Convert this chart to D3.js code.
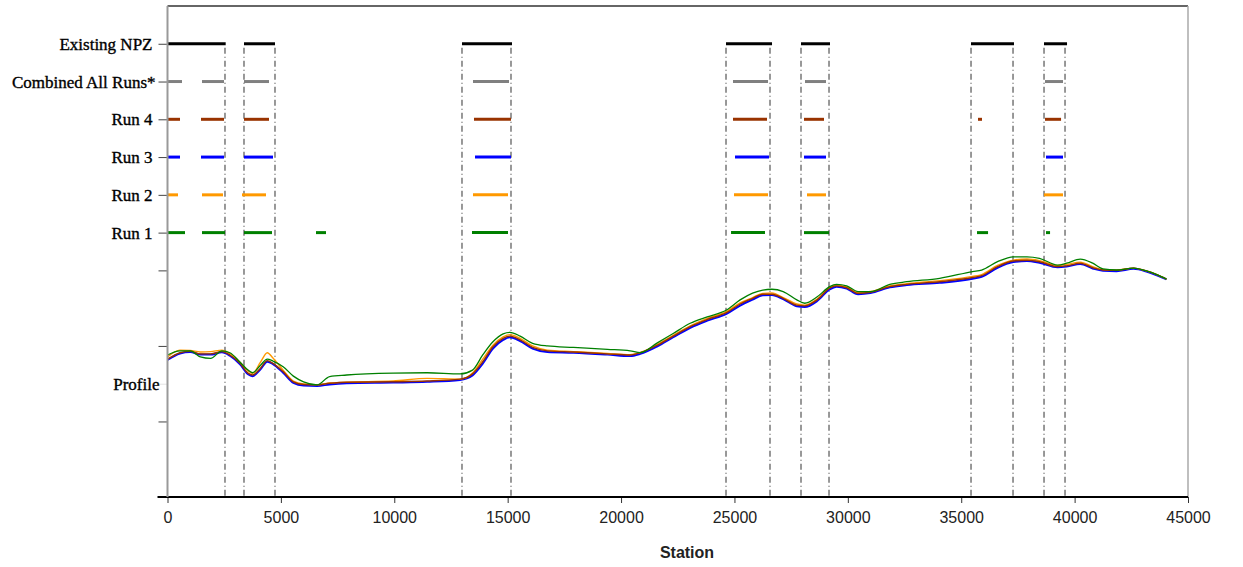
<!DOCTYPE html>
<html>
<head>
<meta charset="utf-8">
<script src="https://cdn.jsdelivr.net/npm/d3@7"></script>
<style>
	body { margin: 0; background: #fff; }
	svg { display: block; }
</style>
</head>
<body>
<svg id="plot" width="1243" height="567"></svg>
<script>

// rows of the zone chart (value on the y axis -> label)
const ROW_VALUES = [12, 11, 10, 9, 8, 7, 3];
const ROW_LABELS = ['Existing NPZ', 'Combined All Runs*', 'Run 4', 'Run 3', 'Run 2', 'Run 1', 'Profile'];

const X_TICKS = [0, 5000, 10000, 15000, 20000, 25000, 30000, 35000, 40000, 45000];

// zones as [start, end] station pairs
const EXISTING_NPZ = [[0, 2566], [3373, 4740], [12986, 15191], [24628, 26657], [27935, 29214], [35431, 37327], [38650, 39666]];
const COMBINED_RUNS = [[0, 640], [1521, 2491], [3373, 4476], [13471, 15059], [24936, 26480], [28111, 29037], [38694, 39488]];
const RUN4_ZONES = [[0, 551], [1477, 2491], [3373, 4476], [13515, 15147], [24936, 26436], [28067, 28949], [35740, 35916], [38694, 39402]];
const RUN3_ZONES = [[0, 551], [1477, 2491], [3373, 4652], [13560, 15147], [25025, 26524], [28067, 29037], [38738, 39488]];
const RUN2_ZONES = [[0, 463], [1521, 2447], [3285, 4344], [13471, 15015], [24980, 26480], [28199, 29037], [38650, 39488]];
const RUN1_ZONES = [[0, 772], [1521, 2536], [3373, 4608], [6548, 6989], [13427, 15015], [24850, 26347], [28067, 29170], [35696, 36183], [38738, 38917]];

// boundaries of the existing NPZ (dash-dot verticals)
const NPZ_BOUNDS = [2535, 3373, 4740, 12986, 15147, 24628, 26568, 27935, 29170, 35432, 37284, 38651, 39577];

// profile stations and elevations (in y axis units)
const STATIONS = [0, 550, 1000, 1450, 1900, 2400, 2750, 3200, 3550, 3750, 4100, 4400, 4650, 5100, 5550, 6000, 6600, 7150, 7900, 9950,
	11450, 12900, 13450, 13900, 14350, 14800, 15100, 15550, 16100, 16750, 17900, 19400, 20400, 20850, 21600, 22300, 23050, 23800, 24650, 25250,
	25800, 26250, 26650, 27150, 27750, 28100, 28650, 29200, 29500, 29950, 30450, 31000, 31850, 32600, 34050, 35500, 35900, 36600, 37300, 37900,
	38450, 39250, 39650, 40250, 40800, 41250, 41850, 42600, 43200, 43650, 44050];

const PROFILE_RUN4 = [3.65, 3.82, 3.86, 3.79, 3.79, 3.85, 3.76, 3.54, 3.28, 3.23, 3.41, 3.61, 3.54, 3.32, 3.05, 2.98, 2.97, 3.01, 3.04, 3.05,
	3.07, 3.12, 3.26, 3.58, 3.98, 4.20, 4.26, 4.16, 3.96, 3.87, 3.84, 3.79, 3.76, 3.82, 4.02, 4.26, 4.51, 4.70, 4.88, 5.11,
	5.26, 5.37, 5.37, 5.26, 5.08, 5.06, 5.22, 5.53, 5.59, 5.54, 5.39, 5.42, 5.57, 5.63, 5.70, 5.81, 5.86, 6.10, 6.25, 6.27,
	6.23, 6.10, 6.12, 6.19, 6.07, 6.01, 6.00, 6.06, 5.98, 5.88, 5.77];

const PROFILE_RUN3 = [3.63, 3.80, 3.84, 3.77, 3.77, 3.83, 3.74, 3.51, 3.25, 3.20, 3.38, 3.58, 3.52, 3.29, 3.02, 2.95, 2.94, 2.98, 3.01, 3.03,
	3.05, 3.10, 3.22, 3.53, 3.93, 4.16, 4.23, 4.13, 3.93, 3.84, 3.82, 3.77, 3.73, 3.79, 3.99, 4.23, 4.48, 4.67, 4.85, 5.07,
	5.23, 5.34, 5.35, 5.24, 5.05, 5.03, 5.19, 5.50, 5.57, 5.52, 5.37, 5.40, 5.55, 5.61, 5.67, 5.78, 5.83, 6.07, 6.22, 6.25,
	6.20, 6.08, 6.10, 6.17, 6.05, 5.99, 5.98, 6.04, 5.96, 5.86, 5.76];

const PROFILE_RUN2 = [3.71, 3.89, 3.88, 3.84, 3.85, 3.89, 3.80, 3.57, 3.34, 3.27, 3.57, 3.82, 3.68, 3.36, 3.07, 2.99, 2.97, 3.02, 3.04, 3.07,
	3.14, 3.12, 3.28, 3.65, 4.02, 4.24, 4.30, 4.20, 4.00, 3.89, 3.85, 3.80, 3.77, 3.83, 4.04, 4.28, 4.53, 4.73, 4.91, 5.14,
	5.28, 5.39, 5.40, 5.28, 5.11, 5.08, 5.24, 5.55, 5.61, 5.56, 5.41, 5.44, 5.59, 5.65, 5.73, 5.84, 5.89, 6.13, 6.27, 6.30,
	6.26, 6.13, 6.16, 6.22, 6.10, 6.02, 6.01, 6.06, 5.98, 5.88, 5.77];

const PROFILE_RUN1 = [3.76, 3.87, 3.87, 3.71, 3.67, 3.87, 3.82, 3.57, 3.36, 3.29, 3.49, 3.65, 3.60, 3.45, 3.20, 3.05, 2.97, 3.19, 3.23, 3.28,
	3.29, 3.26, 3.36, 3.76, 4.11, 4.32, 4.36, 4.26, 4.07, 4.00, 3.96, 3.91, 3.87, 3.82, 4.08, 4.33, 4.60, 4.77, 4.95, 5.22,
	5.40, 5.48, 5.50, 5.44, 5.22, 5.13, 5.30, 5.57, 5.63, 5.59, 5.44, 5.44, 5.63, 5.70, 5.79, 5.97, 6.01, 6.23, 6.36, 6.36,
	6.32, 6.14, 6.19, 6.30, 6.19, 6.04, 6.01, 6.06, 5.98, 5.88, 5.77];

const zoneRows = [
	{value: 12, zones: EXISTING_NPZ, color: '#000000'},
	{value: 11, zones: COMBINED_RUNS, color: '#808080'},
	{value: 10, zones: RUN4_ZONES, color: '#993300'},
	{value: 9, zones: RUN3_ZONES, color: '#0000ff'},
	{value: 8, zones: RUN2_ZONES, color: '#ff9900'},
	{value: 7, zones: RUN1_ZONES, color: '#008000'}
];

// drawing order: blue under, green on top
const profiles = [
	{values: PROFILE_RUN3, color: '#0000ff', width: 2},
	{values: PROFILE_RUN2, color: '#ff9900', width: 1.4},
	{values: PROFILE_RUN4, color: '#993300', width: 1.4},
	{values: PROFILE_RUN1, color: '#008000', width: 1.3}
];

const box = {left: 167.5, right: 1188, top: 6, bottom: 497};

const svg = d3.select('#plot');

const x = d3.scaleLinear().domain([0, 45000]).range([box.left, box.right]);
const y = d3.scaleLinear().domain([0, 13]).range([box.bottom, box.top]);

// frame: top dark line, right light line
svg.append('line')
	.attr('x1', box.left).attr('x2', box.right)
	.attr('y1', box.top).attr('y2', box.top)
	.style('stroke', '#333').style('stroke-width', 1.5);
svg.append('line')
	.attr('x1', box.right).attr('x2', box.right)
	.attr('y1', box.top).attr('y2', box.bottom)
	.style('stroke', '#aaa').style('stroke-width', 1.5);

// dash-dot boundaries
svg.append('g').selectAll('line')
	.data(NPZ_BOUNDS)
	.enter().append('line')
	.attr('x1', d => x(d)).attr('x2', d => x(d))
	.attr('y1', y(12) + 4).attr('y2', box.bottom)
	.style('stroke', '#555')
	.style('stroke-width', 1.2)
	.style('stroke-dasharray', '6,3,1,3');

// profile lines
const line = d3.line()
	.x((d, i) => x(STATIONS[i]))
	.y(d => y(d))
	.curve(d3.curveMonotoneX);

svg.append('g').selectAll('path')
	.data(profiles)
	.enter().append('path')
	.attr('d', d => line(d.values))
	.style('fill', 'none')
	.style('stroke', d => d.color)
	.style('stroke-width', d => d.width);

// zone segments
zoneRows.forEach(row => {
	svg.append('g').selectAll('line')
		.data(row.zones)
		.enter().append('line')
		.attr('x1', d => x(d[0])).attr('x2', d => x(d[1]))
		.attr('y1', y(row.value)).attr('y2', y(row.value))
		.style('stroke', row.color)
		.style('stroke-width', 3);
});

// x axis
const xAxis = svg.append('g')
	.attr('transform', 'translate(0,' + box.bottom + ')')
	.call(d3.axisBottom(x).tickValues(X_TICKS).tickSize(6).tickPadding(9).tickFormat(d3.format('d')));
xAxis.select('.domain').remove();
xAxis.selectAll('.tick line').style('stroke', '#333');
xAxis.selectAll('text')
	.style('font-family', 'Arial, "Liberation Sans", sans-serif')
	.style('font-size', '16px')
	.style('fill', '#222');
svg.append('line')
	.attr('x1', box.left - 10).attr('x2', box.right)
	.attr('y1', box.bottom).attr('y2', box.bottom)
	.style('stroke', '#000').style('stroke-width', 2);

// y axis with row labels
const yAxis = svg.append('g')
	.attr('transform', 'translate(' + box.left + ',0)')
	.call(d3.axisLeft(y)
		.tickValues([2, 4, 6].concat(ROW_VALUES))
		.tickSize(9)
		.tickPadding(6)
		.tickFormat(d => {
			const k = ROW_VALUES.indexOf(d);
			return k >= 0 ? ROW_LABELS[k] : '';
		}));
yAxis.select('.domain').remove();
yAxis.selectAll('.tick line')
	.style('stroke', '#444')
	.style('opacity', d => d === 3 ? 0.15 : 1);
yAxis.selectAll('text')
	.attr('dy', '0.33em')
	.attr('dx', d => d === 3 ? 7 : (d === 11 ? 3 : 0))
	.style('font-family', '"Times New Roman", "Liberation Serif", serif')
	.style('font-size', '17px')
	.style('fill', '#000')
	.style('stroke', '#000')
	.style('stroke-width', 0.35);
svg.append('line')
	.attr('x1', box.left).attr('x2', box.left)
	.attr('y1', box.top).attr('y2', box.bottom)
	.style('stroke', '#999').style('stroke-width', 2);

// axis title
svg.append('text')
	.attr('x', 687)
	.attr('y', 558)
	.attr('text-anchor', 'middle')
	.style('font-family', 'Arial, "Liberation Sans", sans-serif')
	.style('font-weight', 'bold')
	.style('font-size', '16px')
	.style('fill', '#222')
	.text('Station');

</script>
</body>
</html>
